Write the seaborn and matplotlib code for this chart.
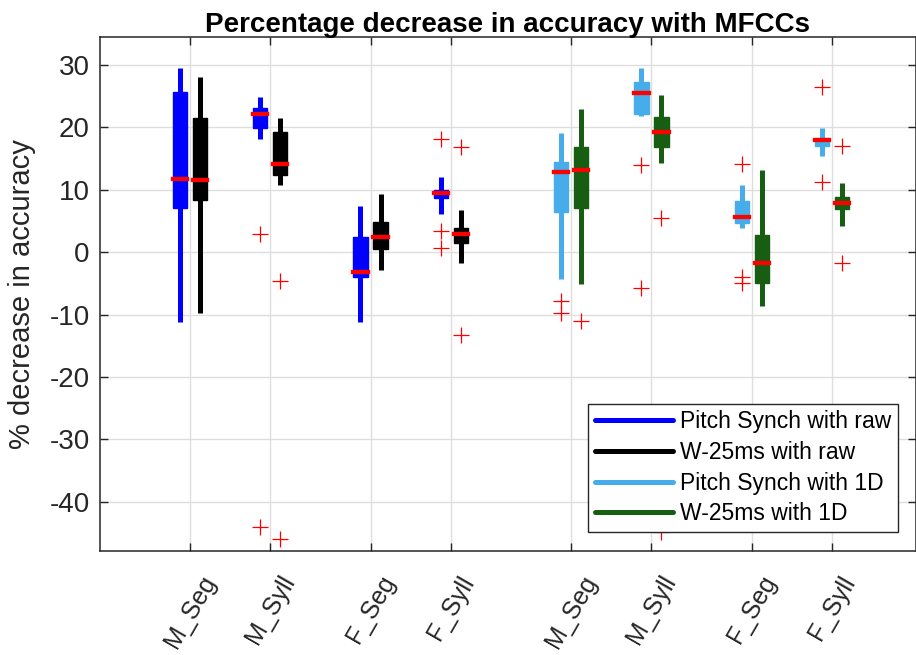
import matplotlib
matplotlib.use("Agg")
import matplotlib.pyplot as plt
from matplotlib.lines import Line2D
import pandas as pd
import seaborn as sns

# ---------------------------------------------------------------- data
categories = ["M_Seg", "M_Syll", "F_Seg", "F_Syll",
              "M_Seg", "M_Syll", "F_Seg", "F_Syll"]

series_names = ["Pitch Synch with raw", "W-25ms with raw",
                "Pitch Synch with 1D", "W-25ms with 1D"]

# Box summaries: lower whisker, Q1, median, Q3, upper whisker, outliers
ps_raw_lo = [-11.2, 18.1, -11.2, 6.1]
ps_raw_q1 = [7.0, 19.9, -4.0, 8.6]
ps_raw_med = [11.7, 22.2, -3.2, 9.4]
ps_raw_q3 = [25.7, 23.1, 2.4, 10.0]
ps_raw_hi = [29.5, 24.8, 7.4, 12.1]
ps_raw_out = [[], [2.9, -44.1], [], [18.1, 3.4, 0.6]]

w25_raw_lo = [-9.8, 10.8, -2.9, -1.8]
w25_raw_q1 = [8.3, 12.4, 0.5, 1.5]
w25_raw_med = [11.6, 14.1, 2.4, 2.9]
w25_raw_q3 = [21.4, 19.3, 4.8, 3.9]
w25_raw_hi = [28.1, 21.4, 9.3, 6.7]
w25_raw_out = [[], [-4.6, -45.9], [], [16.8, -13.3]]

ps_1d_lo = [-4.3, 21.8, 3.8, 15.4]
ps_1d_q1 = [6.4, 22.2, 4.6, 17.0]
ps_1d_med = [12.9, 25.5, 5.7, 17.9]
ps_1d_q3 = [14.4, 27.3, 8.2, 18.3]
ps_1d_hi = [19.0, 29.5, 10.7, 19.8]
ps_1d_out = [[-7.9, -9.8], [14.0, -5.8], [14.1, -4.0, -4.9], [26.4, 11.3]]

w25_1d_lo = [-5.1, 14.2, -8.7, 4.2]
w25_1d_q1 = [7.1, 16.8, -5.0, 6.9]
w25_1d_med = [13.1, 19.2, -1.8, 7.8]
w25_1d_q3 = [16.8, 21.6, 2.8, 8.8]
w25_1d_hi = [23.0, 25.2, 13.1, 11.1]
w25_1d_out = [[-11.1], [5.4, -44.8], [], [17.0, -1.7]]

y_ticks = [-40, -30, -20, -10, 0, 10, 20, 30]

# ---------------------------------------------------------------- layout
tick_pos = [1, 2, 3.25, 4.25, 5.75, 6.75, 8, 9]
series_colors = ["#0000FF", "#000000", "#47ADEA", "#175E12"]
series_slots = [[0, 1, 2, 3], [0, 1, 2, 3], [4, 5, 6, 7], [4, 5, 6, 7]]
series_shift = [-0.125, 0.125, -0.125, 0.125]

series_stats = [
    (ps_raw_lo, ps_raw_q1, ps_raw_med, ps_raw_q3, ps_raw_hi, ps_raw_out),
    (w25_raw_lo, w25_raw_q1, w25_raw_med, w25_raw_q3, w25_raw_hi, w25_raw_out),
    (ps_1d_lo, ps_1d_q1, ps_1d_med, ps_1d_q3, ps_1d_hi, ps_1d_out),
    (w25_1d_lo, w25_1d_q1, w25_1d_med, w25_1d_q3, w25_1d_hi, w25_1d_out),
]

sns.set_theme(style="whitegrid")
plt.rcParams["font.family"] = ["Liberation Sans", "DejaVu Sans"]
plt.rcParams["axes.unicode_minus"] = False
axis_color = "#262626"

fig = plt.figure(figsize=(9.16, 6.55), dpi=100)
ax = fig.add_axes([0.1092, 0.1595, 0.8903, 0.7835])
ax.set_facecolor("white")

flier_rows = []
for name, color, slots, shift, stats in zip(series_names, series_colors,
                                            series_slots, series_shift,
                                            series_stats):
    lo, q1, med, q3, hi, out = stats
    bstats = []
    pos = []
    for i, slot in enumerate(slots):
        bstats.append(dict(whislo=lo[i], q1=q1[i], med=med[i], q3=q3[i],
                           whishi=hi[i], fliers=[]))
        pos.append(tick_pos[slot] + shift)
        for v in out[i]:
            flier_rows.append({"x": tick_pos[slot] + shift, "y": v})
    ax.bxp(bstats, positions=pos, widths=0.18, patch_artist=True,
           showcaps=False, showfliers=False, manage_ticks=False,
           boxprops=dict(facecolor=color, edgecolor=color, linewidth=1.0),
           whiskerprops=dict(color=color, linewidth=3.6,
                             solid_capstyle="butt"),
           medianprops=dict(color="#FF0000", linewidth=3.1,
                            solid_capstyle="projecting"),
           zorder=3)

fliers = pd.DataFrame(flier_rows)
sns.scatterplot(data=fliers, x="x", y="y", marker="+", color="#FF0000",
                s=130, linewidth=0.9, ax=ax, zorder=4, legend=False)

ax.set_xlim(-0.12, 10.04)
ax.set_ylim(-47.8, 34.4)
ax.set_xticks(tick_pos)
ax.set_xticklabels(categories)
ax.set_yticks(y_ticks)
ax.set_xlabel("")
ax.set_ylabel("% decrease in accuracy", fontsize=21, color=axis_color)
ax.yaxis.set_label_coords(-0.078, 0.5)
ax.set_title("Percentage decrease in accuracy with MFCCs", fontsize=20,
             fontweight="bold", color="black", pad=4)

ax.grid(True, color="#dedede", linewidth=1.0)
ax.set_axisbelow(True)
for sp in ax.spines.values():
    sp.set_visible(True)
    sp.set_color(axis_color)
    sp.set_linewidth(1.1)

ax.tick_params(axis="both", direction="in", length=6, width=1,
               color=axis_color, labelcolor=axis_color,
               top=True, right=True, bottom=True, left=True)
ax.tick_params(axis="y", labelsize=20, pad=7.5)
ax.tick_params(axis="x", labelsize=18, pad=15, labelrotation=60)

handles = [Line2D([0], [0], color=c, linewidth=3.6) for c in series_colors]
leg = ax.legend(handles, series_names, loc="lower right",
                bbox_to_anchor=(0.9786, 0.036), borderaxespad=0,
                fontsize=16.5, frameon=True, fancybox=False, framealpha=1,
                edgecolor=axis_color, handlelength=3.4, handletextpad=0.3,
                labelspacing=0.33, borderpad=0.3)
leg.get_frame().set_linewidth(1.0)
for t in leg.get_texts():
    t.set_color("black")

fig.savefig("out.png", dpi=100)
